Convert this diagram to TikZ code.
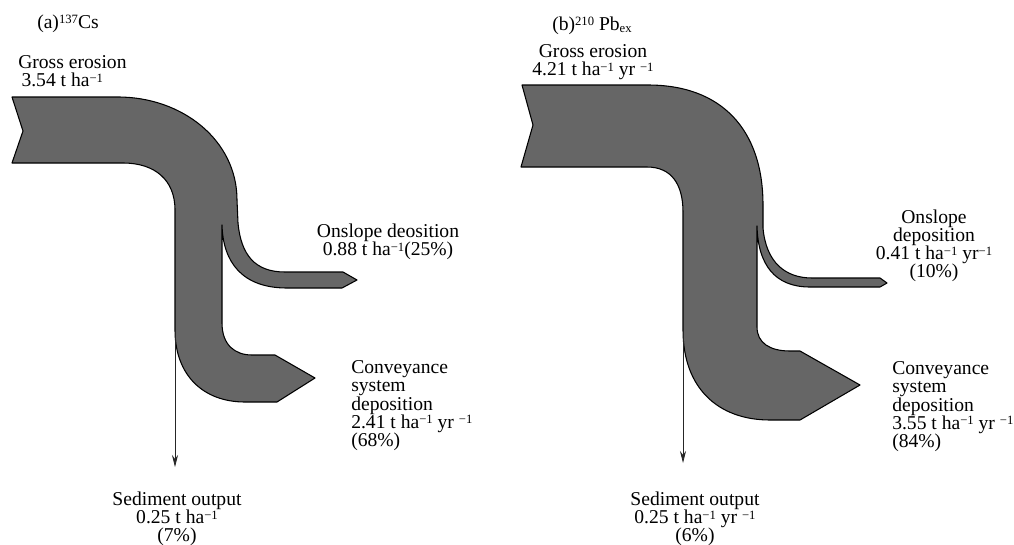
\documentclass[tikz,border=0pt]{standalone}
\usepackage{fontspec}
\setmainfont{Liberation Serif}
\usetikzlibrary{arrows.meta}
\definecolor{flowgray}{RGB}{102,102,102}
\newcommand\lblfont{\fontsize{14.7pt}{13.6pt}\selectfont\lineskiplimit=-10pt\relax\lineskip=0pt\relax}
\newcommand\sps[1]{{\fontsize{9.5pt}{9.5pt}\selectfont\raisebox{3.2pt}{#1}}}
\newcommand\sbs[1]{{\fontsize{9.5pt}{9.5pt}\selectfont\raisebox{-1.5pt}{#1}}}
\begin{document}
\begin{tikzpicture}[x=0.75pt,y=-0.75pt,
  flow/.style={fill=flowgray,draw=black,line width=0.8pt,line join=round},
  lbl/.style={inner sep=0pt,font=\lblfont},
  sedarrow/.style={draw=black!85,line width=0.6pt,-{Stealth[length=9pt,width=4.5pt]}}]
\useasboundingbox (0,0) rectangle (1014,544);
% ---------- panel (a) ----------
\path[flow] (12,97) -- (118,97) .. controls (182,97) and (237,140) .. (237,200)
  -- (238,223) .. controls (241,255) and (255,272) .. (285,272)
  -- (343,272) -- (357,280) -- (342,288) -- (287,288)
  .. controls (242,288) and (223,262) .. (222,225)
  -- (222,323) .. controls (222,345) and (235,355) .. (252,355)
  -- (275,355) -- (315,378) -- (277,402) -- (245,402)
  .. controls (203,402) and (175,375) .. (175,330)
  -- (175,210) .. controls (175,180) and (155,163) .. (123,163)
  -- (12,163) -- (23,131) -- cycle;
\coordinate (sa0) at (175,208);
\coordinate (sa1) at (175,467);
\draw[sedarrow] (sa0) -- (sa1);
\node[lbl,anchor=base west] (ta) at (37,28) {(a)\sps{137}Cs};
\node[lbl,anchor=north west,align=left] (ga) at (18,55.5) {Gross erosion\\\,3.54 t ha\sps{−1}};
\node[lbl,anchor=north,align=center] (oa) at (388,223.5) {Onslope deosition\\0.88 t ha\sps{−1}(25\%)};
\node[lbl,anchor=north west,align=left] (ca) at (351,360.5) {Conveyance\\system\\deposition\\2.41 t ha\sps{−1} yr \sps{−1}\\(68\%)};
\node[lbl,anchor=north,align=center] (sa) at (177,491.5) {Sediment output\\0.25 t ha\sps{−1}\\(7\%)};
% ---------- panel (b) ----------
\path[flow] (522,85) -- (648,85) .. controls (722,85) and (763,130) .. (763,205)
  -- (763,228) .. controls (766,262) and (785,278) .. (812,278)
  -- (880,278) -- (887,283) -- (880,287) -- (810,287)
  .. controls (775,287) and (758,265) .. (757,226)
  -- (757,327) .. controls (757,343) and (770,351) .. (790,351)
  -- (800,351) -- (860,385) -- (800,420) -- (770,420)
  .. controls (718,420) and (683,388) .. (683,330)
  -- (683,212) .. controls (683,185) and (672,167) .. (647,167)
  -- (521,167) -- (533,125) -- cycle;
\coordinate (sb0) at (683,212);
\coordinate (sb1) at (683,463);
\draw[sedarrow] (sb0) -- (sb1);
\node[lbl,anchor=base west] (tb) at (552,30) {(b)\sps{210} Pb\sbs{ex}};
\node[lbl,anchor=north,align=center] (gb) at (593,44.5) {Gross erosion\\4.21 t ha\sps{−1} yr \sps{−1}};
\node[lbl,anchor=north,align=center] (ob) at (934,209.5) {Onslope\\deposition\\0.41 t ha\sps{−1} yr\sps{−1}\\(10\%)};
\node[lbl,anchor=north west,align=left] (cb) at (892,361.5) {Conveyance\\system\\deposition\\3.55 t ha\sps{−1} yr \sps{−1}\\(84\%)};
\node[lbl,anchor=north,align=center] (sb) at (695,491.5) {Sediment output\\0.25 t ha\sps{−1} yr \sps{−1}\\(6\%)};
\end{tikzpicture}
\end{document}
